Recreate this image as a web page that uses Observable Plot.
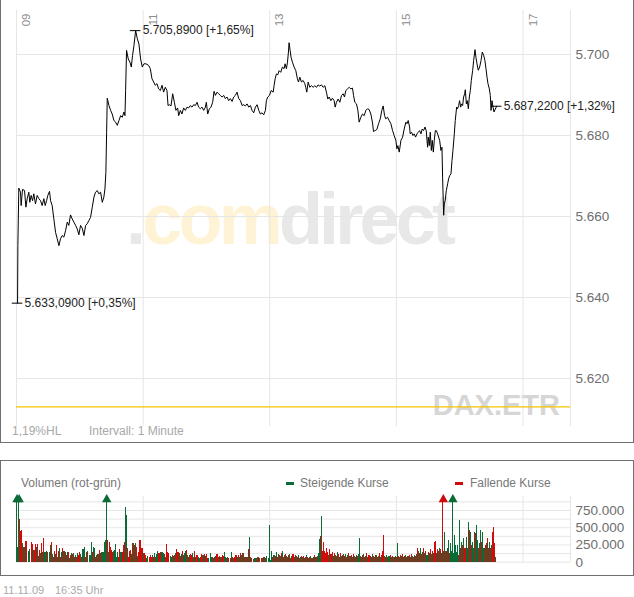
<!DOCTYPE html>
<html><head><meta charset="utf-8">
<script src="https://cdn.jsdelivr.net/npm/d3@7"></script>
<script src="https://cdn.jsdelivr.net/npm/@observablehq/plot@0.6"></script>
<style>
body{margin:0;background:#fff;}
#root{position:relative;width:634px;height:597px;overflow:hidden;font-family:"Liberation Sans",Arial,sans-serif;}
.abs{position:absolute;left:0;top:0;}
</style></head><body>
<div id="root">
 <div style="position:absolute;left:0;top:-1px;width:632px;height:442px;border:1px solid #707070;"></div>
 <div style="position:absolute;left:0;top:460px;width:632px;height:114px;border:1px solid #707070;"></div>
 <svg class="abs" width="634" height="597" style="font-family:'Liberation Sans',Arial,sans-serif">
  <text x="126" y="244" font-weight="bold" font-size="72" letter-spacing="-3.8"><tspan fill="#e8e8e8">.</tspan><tspan fill="#fff3d6">com</tspan><tspan fill="#e8e8e8">direct</tspan></text>
  <text x="560" y="415" text-anchor="end" font-weight="bold" font-size="29" fill="#d6d6d6">DAX.ETR</text>
 </svg>
 <div id="main" class="abs"></div>
 <div id="vol" class="abs" style="top:461px"></div>
 <svg class="abs" width="634" height="597" style="font-family:'Liberation Sans',Arial,sans-serif">
  <text x="12" y="435" font-size="12" fill="#a8a8a8">1,19%HL</text>
  <text x="89" y="435" font-size="12" fill="#a8a8a8">Intervall: 1 Minute</text>
  <text x="21" y="487" font-size="12" fill="#777">Volumen (rot-grün)</text>
  <rect x="286" y="482" width="8" height="3" fill="#0a6b36"/>
  <text x="300" y="487" font-size="12" fill="#777">Steigende Kurse</text>
  <rect x="455" y="482" width="8" height="3" fill="#d10a0a"/>
  <text x="470" y="487" font-size="12" fill="#777">Fallende Kurse</text>
  <text x="3" y="594" font-size="11" fill="#aaa">11.11.09</text>
  <text x="55" y="594" font-size="11" fill="#aaa">16:35 Uhr</text>
 </svg>
</div>
<script>
// ---- price series: minutes after 09:00, DAX level ----
const priceMin = [1.0,1.3,2.2,3.8,4.4,5.7,7.6,8.9,10.1,11.7,12.6,13.9,15.2,16.4,18.0,19.6,21.2,22.8,24.3,25.9,27.2,28.5,29.7,31.3,32.3,33.8,35.4,37.0,38.6,40.2,41.7,43.3,44.9,46.5,48.1,49.6,51.2,52.8,54.4,56.0,57.6,59.1,60.7,62.3,63.9,65.5,67.0,68.6,70.2,71.8,73.4,74.9,76.5,78.1,79.7,81.3,82.8,83.8,84.7,85.4,86.0,87.6,89.2,90.7,92.3,93.9,95.5,97.1,98.7,100.2,101.8,102.8,103.4,104.3,105.9,107.5,108.8,110.0,111.3,112.9,114.5,116.0,117.6,119.2,120.8,122.7,125.2,126.8,128.4,130.0,131.5,133.1,134.7,136.3,137.9,139.4,141.0,142.6,143.6,144.8,146.4,148.0,149.6,151.1,152.7,153.7,155.3,156.8,158.4,160.0,161.6,163.2,164.7,166.3,167.9,169.5,171.1,172.6,174.2,175.8,177.4,179.0,179.9,181.2,182.8,184.3,185.9,187.2,188.5,190.0,191.6,193.2,194.8,196.4,197.9,199.5,201.1,202.7,204.3,205.8,207.4,209.0,210.6,212.2,213.8,215.3,216.9,218.5,220.1,221.7,223.2,224.8,226.4,228.0,229.6,231.1,232.7,234.3,235.9,236.8,238.1,239.7,241.3,243.2,244.1,245.1,246.3,247.6,248.9,250.4,252.0,253.6,254.5,255.8,256.8,257.7,258.3,259.3,260.2,261.5,263.1,264.7,266.2,267.2,268.5,270.0,271.6,273.2,274.1,275.1,276.4,277.9,279.5,281.1,282.7,284.3,285.8,287.4,289.0,290.6,292.2,293.7,295.0,296.3,297.9,299.4,301.0,302.0,303.2,304.8,306.4,308.0,309.6,310.8,312.1,313.7,315.3,316.8,318.4,319.4,320.6,322.2,323.5,324.7,326.3,327.9,329.5,331.1,332.6,334.2,335.8,337.4,338.3,339.9,341.5,343.1,344.7,346.2,347.5,348.8,350.0,351.6,353.2,354.8,356.4,357.9,359.5,360.5,361.4,362.7,364.3,365.9,367.4,369.0,370.0,371.2,372.5,373.1,374.4,375.7,376.9,378.2,379.5,380.7,382.0,383.3,384.5,385.8,387.1,388.3,389.0,389.6,390.2,391.2,392.1,393.1,394.0,395.0,395.9,396.9,397.8,399.1,400.0,401.0,402.2,403.2,403.8,404.8,405.4,406.3,407.3,408.6,409.5,410.5,411.7,412.7,413.6,414.9,415.8,417.1,418.0,419.0,419.9,420.9,421.8,422.8,423.7,424.7,425.3,426.3,427.2,428.2,429.1,430.1,431.0,432.3,433.2,434.5,435.4,436.4,437.6,438.9,440.2,441.4,442.7,443.9,444.9,445.9,446.8,448.1,449.0,449.7,450.6,451.6,452.5,455.0];
const priceVal = [5638.6,5652.8,5667.0,5666.0,5662.7,5666.7,5666.4,5662.3,5664.4,5666.0,5663.5,5665.2,5663.9,5665.6,5663.1,5665.2,5664.4,5663.9,5662.7,5664.4,5662.7,5663.9,5665.2,5666.2,5663.9,5662.7,5659.4,5656.1,5654.5,5652.8,5654.5,5655.3,5654.9,5656.5,5658.6,5657.8,5660.4,5659.4,5658.6,5657.8,5656.9,5655.5,5657.8,5657.1,5655.3,5657.8,5658.2,5659.0,5659.8,5662.3,5664.8,5666.0,5666.4,5665.6,5666.0,5663.5,5664.8,5666.8,5670.9,5680.8,5689.2,5687.4,5686.2,5685.3,5683.7,5683.3,5682.5,5683.7,5684.9,5684.5,5685.8,5684.9,5691.1,5701.0,5698.9,5698.1,5696.9,5699.8,5702.2,5705.89,5703.9,5702.6,5698.9,5696.9,5697.7,5697.7,5697.3,5696.5,5694.0,5693.2,5692.4,5692.8,5691.5,5691.1,5692.4,5690.7,5691.9,5691.1,5687.4,5687.6,5687.3,5690.3,5688.2,5686.2,5686.8,5684.9,5686.2,5685.3,5686.8,5686.2,5687.0,5686.8,5687.4,5687.0,5687.6,5687.4,5688.2,5687.0,5686.6,5687.0,5686.2,5687.0,5688.2,5685.3,5686.6,5687.0,5688.2,5690.9,5689.9,5690.7,5690.3,5689.9,5689.5,5689.9,5689.1,5689.5,5688.6,5689.1,5688.4,5689.5,5689.9,5690.7,5689.1,5688.6,5687.4,5687.6,5687.3,5687.8,5687.0,5687.4,5686.2,5685.6,5687.0,5687.6,5686.2,5685.3,5685.6,5685.1,5686.2,5688.6,5689.5,5689.9,5691.1,5690.7,5692.3,5694.0,5695.2,5695.0,5696.0,5695.6,5696.9,5696.5,5697.7,5696.5,5698.1,5700.6,5702.9,5701.0,5699.3,5698.1,5696.9,5696.0,5694.0,5693.2,5694.4,5693.2,5693.6,5692.8,5691.9,5690.7,5693.2,5691.9,5692.3,5691.9,5692.3,5691.9,5692.5,5692.2,5692.5,5691.9,5692.3,5690.7,5689.0,5689.5,5688.6,5689.2,5688.6,5687.0,5688.2,5689.0,5688.2,5689.9,5690.3,5689.5,5691.1,5691.5,5691.9,5691.5,5691.7,5689.9,5688.2,5687.8,5686.2,5683.3,5684.5,5685.3,5684.9,5686.2,5686.6,5686.4,5685.3,5683.1,5681.0,5681.2,5681.5,5682.9,5684.1,5686.2,5687.3,5684.9,5684.1,5684.5,5683.7,5682.9,5681.2,5680.0,5678.8,5676.7,5677.5,5675.9,5678.8,5679.6,5681.6,5683.3,5682.9,5683.7,5682.1,5680.4,5680.8,5680.0,5680.4,5679.6,5680.4,5680.8,5681.2,5680.4,5681.6,5681.2,5682.1,5681.2,5678.8,5677.1,5679.6,5677.5,5680.8,5676.3,5678.8,5675.9,5678.8,5681.2,5681.2,5680.4,5679.6,5678.8,5676.3,5677.1,5669.7,5660.3,5663.1,5664.0,5666.4,5668.1,5669.3,5670.1,5670.5,5673.8,5676.3,5680.4,5683.7,5687.0,5686.6,5687.4,5688.6,5687.0,5687.8,5687.4,5689.5,5690.3,5691.3,5687.8,5688.6,5686.6,5689.5,5691.1,5693.6,5696.1,5698.5,5701.2,5699.3,5697.7,5696.1,5696.9,5698.5,5700.6,5699.8,5698.5,5696.5,5694.4,5692.8,5691.5,5689.9,5686.2,5688.6,5687.0,5685.8,5687.22];

// ---- annotations ----
const annMin = [1.0, 112.9, 455.0];
const annVal = [5638.6, 5705.89, 5687.22];
const annLabel = ["5.633,0900 [+0,35%]", "5.705,8900 [+1,65%]", "5.687,2200 [+1,32%]"];
const prevClose = 5613;

// ---- axes ----
const yTicks = [5620, 5640, 5660, 5680, 5700];
const xTicks = [0, 120, 240, 360, 480];          // minutes after 09:00
const xTickLabels = ["09", "11", "13", "15", "17"];
const xEnd = 525;                                  // 17:45
const volTicks = [0, 250, 500, 750];               // thousands

// ---- volume per minute (thousands), G = steigend, R = fallend ----
const vol09 = [1200,208,1100,615,445,460,276,208,218,300,0,160,179,0,281,257,169,169,257,208,257,87,165,121,266,145,344,145,155,145,0,145,242,290,106,73,155,106,242,73,155,194,73,145,194,155,145,92,145,140,48,97,121,116,121,73,92,73,131,97,136,116,73,179,208,73,145,155,0,97,97,281,145,208,194,73,97,111,111,169,121,136,145,281,315,1100,315,145,286,208,169,145,155,169,252,73,136,73,179,136,145,242,281,789,678,194,73,155,169,106,266,266,242,266,208,87,145,315,203,203];
const dir09 = "GGGRRRGRGR"+"GGGGRRGRRG"+"RGRGRGRGGR"+"GGGRGRRGRG"+"RGRGRGRRGR"+"GRGRGRGRGR"+"RGRGGRRGGG"+"GGRGGRRGGR"+"RGGGGGRGRR"+"RRGGGGGRRG"+"RRRGGRRRRG"+"RGRGRGRRRR";
const vol11 = [121,121,92,48,87,0,73,92,73,92,73,121,73,111,155,121,140,140,145,121,106,73,257,145,121,0,87,73,97,87,97,131,179,145,121,82,106,155,92,121,160,169,97,73,97,111,92,121,73,155,73,92,73,48,73,111,97,97,111,82,106,48,48,0,121,73,73,48,73,82,106,73,82,73,73,92,82,140,73,48,63,48,0,48,140,73,48,73,92,73,92,73,131,97,121,131,73,73,73,73,179,363,73,58,0,39,58,48,73,63,48,0,58,48,73,63,48,87,0,58];
const dir11 = "GRRGGGRRRG"+"RGRGGRGRGG"+"RGRRRGGGRG"+"RGRRGRGRGG"+"GRGRGRRGRR"+"GRGGRRGRRG"+"RRGGGGRGRG"+"RGRGRRRGGR"+"GRGRGRGRRG"+"RGRGRGGRGR"+"RGRGGR"+"GRGRGGRGRGRGGG";
const vol13 = [530,24,160,73,97,87,145,73,116,97,87,121,160,73,97,106,87,73,97,116,58,87,106,73,92,82,73,97,58,73,87,63,82,58,73,92,63,48,73,87,58,73,97,63,73,82,121,329,372,660,150,290,160,121,200,140,97,179,116,145,87,121,97,87,145,106,73,131,87,97,116,87,106,73,97,121,82,92,73,106,87,73,97,82,116,339,87,73,97,106,73,87,121,73,97,82,73,106,87,73,92,97,73,87,121,73,97,150,387,82,73,92,73,87,97,73,82,63,73,87];
const dir13 = "GGGRGR"+"GRGRGRGRGR"+"RGRGRGRGRG"+"RGRGRGRGRG"+"RGRGRGRGRG"+"GGRGR"+"RRRRRGRRRG"+"RGRGRGRGRG"+"RGRGRGRGRG"+"RGRGGRGRGR"+"GRGRGRGRGR"+"GRGRGRRRGR"+"GRGRGRGRG";
const vol15 = [73,266,87,73,97,82,106,73,87,97,73,87,92,73,106,87,73,97,82,106,194,150,121,194,106,140,194,121,160,97,145,121,179,106,150,131,290,300,121,179,150,194,179,131,1100,160,436,150,194,315,121,266,150,1100,121,387,242,145,242,97,605,203,290,242,339,194,363,203,581,460,436,242,290,194,436,411,532,315,203,266,460,290,436,194,242,266,339,203,290,194,242,436,508,266,73];
const dir15 = "RGRGRGRGRG"+"RGRGRGRGRG"+"RGRGRGRGRG"+"RGRGRGRRGR"+"RGRGRGGRGG"+"RGGGGGGGGR"+"GRGRGRGGGR"+"GRGGGRGGRG"+"GRGGRGRRGR"+"GRRRG";
const volStart = [0, 120, 240, 360];
const volMax = 953;

const GREEN = "#0a6b36", RED = "#d10a0a", GRID = "#e6e6e6";
const de = d3.formatLocale({decimal: ",", thousands: ".", grouping: [3], currency: ["", "€"]});
const fmtInt = de.format(",.0f");

const prices = priceMin.map((m, i) => ({m, p: priceVal[i]}));
const ann = annMin.map((m, i) => ({m, p: annVal[i], label: annLabel[i]}));
const volRows = [];
[[vol09, dir09], [vol11, dir11], [vol13, dir13], [vol15, dir15]].forEach(([v, d], c) => {
  v.forEach((k, i) => volRows.push({m: volStart[c] + i, k, up: d[i] === "G"}));
});

const font = "'Liberation Sans', Arial, sans-serif";

const main = Plot.plot({
  width: 634, height: 442,
  marginTop: 10, marginBottom: 16, marginLeft: 16, marginRight: 64,
  x: {domain: [0, xEnd], axis: null},
  y: {domain: [5608.15, 5710.86], axis: null},
  style: {background: "transparent", fontFamily: font},
  marks: [
    Plot.ruleY(yTicks, {stroke: GRID}),
    Plot.ruleX([...xTicks, xEnd], {stroke: GRID}),
    Plot.ruleY([prevClose], {stroke: "#f5c400", strokeWidth: 1.3}),
    Plot.line(prices, {x: "m", y: "p", stroke: "#000", strokeWidth: 1}),
    Plot.ruleY(ann, {y: "p", x1: d => d.m - 5, x2: d => d.m + 5, stroke: "#000"}),
    Plot.text(ann, {x: "m", y: "p", text: "label", textAnchor: "start", dx: 7, fontSize: 12, fill: "#222"}),
    Plot.text(yTicks, {y: d => d, frameAnchor: "right", text: d => fmtInt(d), textAnchor: "start", dx: 5, fontSize: 13.5, fill: "#6e6e6e"}),
    Plot.text(xTicks, {x: d => d, frameAnchor: "top", text: (d, i) => xTickLabels[i], rotate: -90, textAnchor: "end", dx: 5.5, dy: 3, fontSize: 11.5, fill: "#8c8c8c"})
  ]
});
document.getElementById("main").appendChild(main);

const vol = Plot.plot({
  width: 634, height: 114,
  marginTop: 35, marginBottom: 13.3, marginLeft: 16, marginRight: 64,
  x: {domain: [0, xEnd], axis: null},
  y: {domain: [0, volMax], axis: null},
  style: {background: "transparent", fontFamily: font},
  marks: [
    Plot.ruleY(d3.range(0, 876, 125), {stroke: GRID}),
    Plot.ruleX([...xTicks.slice(1), xEnd], {stroke: GRID}),
    Plot.rect(volRows.filter(d => d.up && d.k > 0), {x1: "m", x2: d => d.m + 1, y1: () => 0, y2: d => Math.min(d.k, volMax), fill: GREEN, inset: 0, shapeRendering: "crispEdges"}),
    Plot.rect(volRows.filter(d => !d.up && d.k > 0), {x1: "m", x2: d => d.m + 1, y1: () => 0, y2: d => Math.min(d.k, volMax), fill: RED, inset: 0, shapeRendering: "crispEdges"}),
    Plot.dot(volRows.filter(d => d.k > volMax), {x: d => d.m + 0.5, frameAnchor: "top", dy: 3, symbol: "triangle", r: 3.5, fill: d => d.up ? GREEN : RED, stroke: "none"}),
    Plot.text(volTicks, {y: d => d, frameAnchor: "right", text: d => fmtInt(d * 1000), textAnchor: "start", dx: 5, fontSize: 13.5, fill: "#6e6e6e"})
  ],
  color: {type: "identity"}
});
document.getElementById("vol").appendChild(vol);
</script>
</body></html>
